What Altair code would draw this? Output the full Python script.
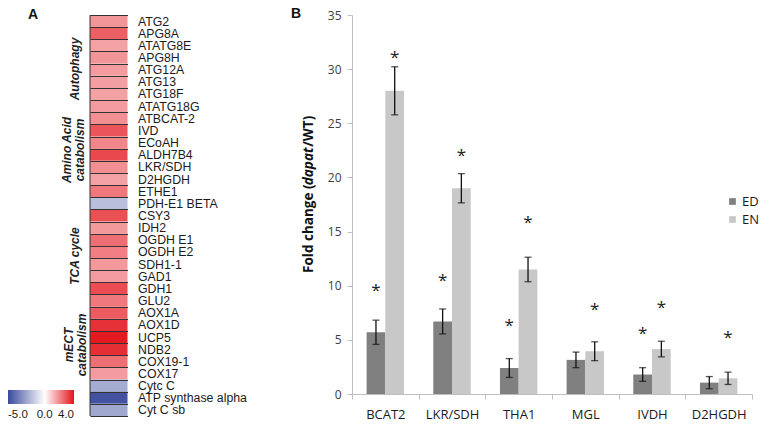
import altair as alt
import pandas as pd

# ---------------- Panel A data ----------------
genes = ["ATG2", "APG8A", "ATATG8E", "APG8H", "ATG12A", "ATG13", "ATG18F", "ATATG18G",
         "ATBCAT-2", "IVD", "ECoAH", "ALDH7B4", "LKR/SDH", "D2HGDH", "ETHE1", "PDH-E1 BETA",
         "CSY3", "IDH2", "OGDH E1", "OGDH E2", "SDH1-1", "GAD1", "GDH1", "GLU2",
         "AOX1A", "AOX1D", "UCP5", "NDB2", "COX19-1", "COX17", "Cytc C",
         "ATP synthase alpha", "Cyt C sb"]
heat_vals = [1.8, 2.7, 1.6, 1.8, 1.7, 1.65, 1.6, 1.7, 1.9, 2.9, 2.05, 3.1, 1.9, 1.6, 2.3,
             -1.8, 3.0, 1.75, 2.45, 2.2, 1.75, 1.7, 3.05, 2.3, 2.8, 3.5, 3.9, 3.55, 2.45,
             1.7, -2.3, -4.8, -2.4]
color_stops = [-5, 0, 4]
group_labels = ["Autophagy", ["Amino Acid", "catabolism"], "TCA cycle", ["mECT", "catabolism"]]

# ---------------- Panel B data ----------------
bar_genes = ["BCAT2", "LKR/SDH", "THA1", "MGL", "IVDH", "D2HGDH"]
series = ["ED", "EN"]
ed_mean = [5.7, 6.7, 2.4, 3.15, 1.8, 1.05]
ed_err = [1.12, 1.15, 0.87, 0.72, 0.63, 0.56]
en_mean = [28.0, 19.0, 11.5, 3.95, 4.15, 1.45]
en_err = [2.22, 1.35, 1.13, 0.87, 0.72, 0.57]
ed_star = [9.7, 10.6, 6.5, None, 5.7, None]
en_star = [31.2, 22.2, 16.0, 7.9, 8.1, 5.4]

BLUE = "#3a4a9c"
RED = "#e3141b"
SANS = "Liberation Sans"
OPEN = "Open Sans"

HM_W = 37.5
HM_H = 401
BAR_W = 400
BAR_H = 379

heat_df = pd.DataFrame({"gene": genes, "value": heat_vals, "col": ["v"] * len(genes)})
one = pd.DataFrame({"a": [0]})

rects = alt.Chart(heat_df).mark_rect().encode(
    x=alt.X("col:N", axis=None, scale=alt.Scale(paddingInner=0, paddingOuter=0)),
    y=alt.Y("gene:N", sort=genes, scale=alt.Scale(paddingInner=0, paddingOuter=0),
            axis=alt.Axis(orient="right", title=None, ticks=False, domain=False, grid=True,
                          gridColor="#333333", gridWidth=1, tickBand="extent",
                          labelFont=SANS, labelFontSize=12.3, labelColor="#1a1a1a",
                          labelPadding=10, zindex=1)),
    color=alt.Color("value:Q",
                    scale=alt.Scale(domain=color_stops, range=[BLUE, "#ffffff", RED], interpolate="rgb"),
                    legend=alt.Legend(orient="none", legendX=-82, legendY=375, direction="horizontal",
                                      gradientLength=66, gradientThickness=14, title=None,
                                      values=color_stops,
                                      labelExpr="datum.value < 0 ? '-' + format(-datum.value, '.1f') : format(datum.value, '.1f')",
                                      labelFont=SANS, labelOffset=5,
                                      labelFontSize=11.5, labelColor="#1a1a1a", gradientStrokeWidth=0)),
)

left_line = alt.Chart(one).mark_rule(color="#333333", strokeWidth=1).encode(
    x=alt.value(0), y=alt.value(0), y2=alt.value(HM_H))


def vlabel(text, x, y):
    return alt.Chart(one).mark_text(text=text, angle=270, font=SANS, fontSize=12, fontWeight="bold",
                                    fontStyle="italic", align="center", baseline="middle",
                                    lineHeight=12.5, color="#222222").encode(
        x=alt.value(x), y=alt.value(y))


glabels = [vlabel(group_labels[0], -15, 54), vlabel(group_labels[1], -23, 135),
           vlabel(group_labels[2], -15, 241), vlabel(group_labels[3], -21, 330)]

label_a = alt.Chart(one).mark_text(text="A", font=SANS, fontSize=14, fontWeight="bold",
                                   align="center", baseline="middle", color="#111111").encode(
    x=alt.value(-57), y=alt.value(0))

heat = alt.layer(rects, left_line, *glabels, label_a).properties(width=HM_W, height=HM_H)

# ---------------- Panel B ----------------
rows = []
for i, g in enumerate(bar_genes):
    rows.append({"gene": g, "grp": "ED", "val": ed_mean[i], "lo": ed_mean[i] - ed_err[i], "hi": ed_mean[i] + ed_err[i]})
    rows.append({"gene": g, "grp": "EN", "val": en_mean[i], "lo": en_mean[i] - en_err[i], "hi": en_mean[i] + en_err[i]})
bar_df = pd.DataFrame(rows)

srows = []
for i, g in enumerate(bar_genes):
    if ed_star[i] is not None:
        srows.append({"gene": g, "grp": "ED", "star": ed_star[i]})
    if en_star[i] is not None:
        srows.append({"gene": g, "grp": "EN", "star": en_star[i]})
star_df = pd.DataFrame(srows)

x_axis = alt.Axis(title=None, labelAngle=0, tickBand="extent", tickSize=5, tickColor="#bfbfbf",
                  domainColor="#bfbfbf", labelFont=OPEN, labelFontSize=13, labelColor="#1a1a1a",
                  labelPadding=9)
y_axis = alt.Axis(title=None, values=[0, 5, 10, 15, 20, 25, 30, 35], grid=False, tickSize=5,
                  tickColor="#bfbfbf", domainColor="#bfbfbf", labelFont=OPEN, labelFontSize=12,
                  labelColor="#404040", labelPadding=6)
X = alt.X("gene:N", sort=bar_genes, scale=alt.Scale(paddingInner=0, paddingOuter=0), axis=x_axis)
XO = alt.XOffset("grp:N", sort=series, scale=alt.Scale(paddingInner=0, paddingOuter=0.78))
yscale = alt.Scale(domain=[0, 35])

bars = alt.Chart(bar_df).mark_bar().encode(
    x=X, xOffset=XO,
    y=alt.Y("val:Q", scale=yscale, axis=y_axis),
    color=alt.Color("grp:N", scale=alt.Scale(domain=series, range=["#808080", "#c8c8c8"]),
                    legend=alt.Legend(orient="none", legendX=374, legendY=180, title=None,
                                      symbolType="square", symbolSize=45, labelFont=OPEN,
                                      labelFontSize=13, labelColor="#1a1a1a", rowPadding=4,
                                      labelOffset=3, symbolStrokeWidth=0)),
)
err = alt.Chart(bar_df).mark_rule(color="#111111", strokeWidth=1.3).encode(
    x=X, xOffset=XO, y=alt.Y("lo:Q", scale=yscale, axis=y_axis), y2="hi:Q")
cap_lo = alt.Chart(bar_df).mark_tick(color="#111111", thickness=1.3, size=7).encode(
    x=X, xOffset=XO, y=alt.Y("lo:Q", scale=yscale, axis=y_axis))
cap_hi = alt.Chart(bar_df).mark_tick(color="#111111", thickness=1.3, size=7).encode(
    x=X, xOffset=XO, y=alt.Y("hi:Q", scale=yscale, axis=y_axis))
stars = alt.Chart(star_df).mark_text(text="*", font=OPEN, fontSize=17, color="#222222",
                                     baseline="middle", dy=2).encode(
    x=X, xOffset=XO, y=alt.Y("star:Q", scale=yscale, axis=y_axis))


def title_piece(text, y, italic=False):
    kw = dict(text=text, angle=270, font=OPEN, fontSize=13.5, fontWeight="bold", align="left",
              baseline="middle", color="#111111")
    if italic:
        kw["fontStyle"] = "italic"
    return alt.Chart(one).mark_text(**kw).encode(x=alt.value(-43), y=alt.value(y))


t1 = title_piece("Fold change (", 258)
t2 = title_piece("dapat", 170.2, italic=True)
t3 = title_piece("/WT)", 131.8)
label_b = alt.Chart(one).mark_text(text="B", font=SANS, fontSize=14, fontWeight="bold",
                                   align="center", baseline="middle", color="#111111").encode(
    x=alt.value(-56), y=alt.value(-1))

bar = alt.layer(bars, err, cap_lo, cap_hi, stars, t1, t2, t3, label_b).properties(width=BAR_W, height=BAR_H)

chart = alt.hconcat(heat, bar, spacing=43).resolve_scale(color="independent").properties(
    padding={"left": 0, "top": -1, "right": 0, "bottom": 0}
).configure_view(stroke=None)

chart.save("out.html", embed_options={"renderer": "svg", "actions": False})
